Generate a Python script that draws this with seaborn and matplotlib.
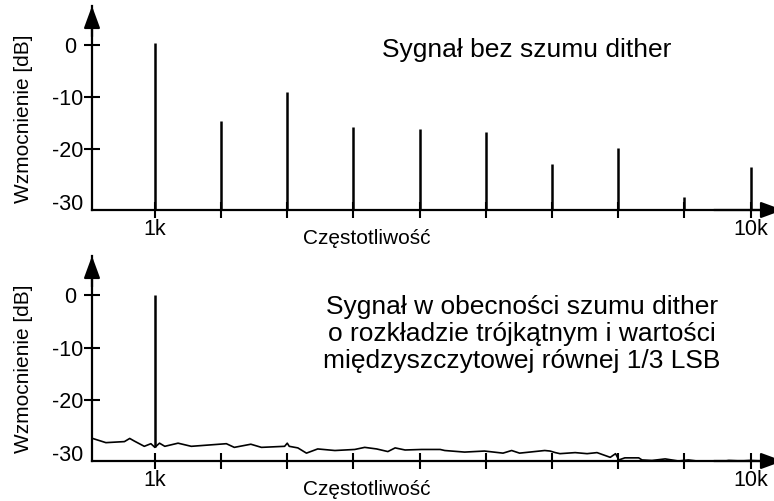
import matplotlib
matplotlib.use("Agg")
import matplotlib.pyplot as plt
import seaborn as sns
import pandas as pd

# ---------------- data ----------------
harm_khz = [1, 2, 3, 4, 5, 6, 7, 8, 9, 10]
harm_db = [0.5, -14.6, -8.9, -15.7, -16.0, -16.7, -22.7, -19.8, -29.1, -23.3]

spike_khz = [1]
spike_db = [0.0]
spike_base_db = [-28.9]

noise_khz = [0.06, 0.11, 0.26, 0.54, 0.62, 0.69, 0.84, 0.94, 1.0, 1.07, 1.15, 1.35,
             1.55, 2.08, 2.20, 2.45, 2.61, 2.96, 3.00, 3.03, 3.16, 3.29, 3.46, 3.72,
             4.02, 4.17, 4.35, 4.52, 4.63, 4.78, 5.03, 5.31, 5.38, 5.68, 5.98, 6.26,
             6.39, 6.51, 6.89, 6.97, 7.05, 7.12, 7.35, 7.53, 7.68, 7.88, 7.96, 8.01,
             8.10, 8.31, 8.36, 8.51, 8.71, 8.91, 9.06, 9.26, 9.46, 9.67, 9.86, 9.99,
             10.17]
noise_db = [-27.3, -27.5, -28.1, -27.9, -27.3, -27.8, -28.8, -28.3, -29.0, -28.2, -28.8, -28.2,
            -28.8, -28.3, -29.0, -28.4, -29.0, -28.8, -28.2, -28.8, -29.1, -30.1, -29.3, -29.6,
            -29.4, -29.0, -29.3, -29.8, -29.1, -29.5, -29.4, -29.4, -29.6, -29.9, -29.7, -30.1,
            -29.6, -30.1, -29.6, -29.7, -30.0, -30.2, -30.0, -30.2, -30.0, -30.9, -30.2, -31.4,
            -31.0, -31.0, -31.4, -31.5, -31.2, -31.6, -31.4, -31.7, -31.9, -31.5, -31.6, -31.5,
            -31.6]

y_ticks = [0, -10, -20, -30]
y_tick_labels = ["0 ", "-10", "-20", "-30"]
x_ticks = [1, 2, 3, 4, 5, 6, 7, 8, 9, 10]
x_tick_labels = ["1k", "", "", "", "", "", "", "", "", "10k"]

title_top = "Sygnał bez szumu dither"
title_bottom = ("Sygnał w obecności szumu dither\n"
                "o rozkładzie trójkątnym i wartości\n"
                "międzyszczytowej równej 1/3 LSB")
x_label = "Częstotliwość"
y_label = "Wzmocnienie [dB]"

XLIM = (0.05, 10.49)
YLIM = (-31.6, 7.5)

sns.set_style("white")
plt.rcParams["font.family"] = ["Liberation Sans", "DejaVu Sans"]
plt.rcParams["text.color"] = "black"
plt.rcParams["axes.labelcolor"] = "black"

W, H = 774, 501
fig = plt.figure(figsize=(W / 100, H / 100), dpi=100)


def px_axes(left, top, right, bottom):
    return fig.add_axes([left / W, 1 - bottom / H, (right - left) / W, (bottom - top) / H])


def style_axes(ax, top, bottom):
    h = bottom - top
    ax.set_xlim(*XLIM)
    ax.set_ylim(*YLIM)
    for side in ["top", "right"]:
        ax.spines[side].set_visible(False)
    for side in ["left", "bottom"]:
        ax.spines[side].set_linewidth(1.6)
        ax.spines[side].set_color("black")
    ax.set_xticks(x_ticks)
    ax.set_xticklabels(x_tick_labels)
    ax.set_yticks(y_ticks)
    ax.set_yticklabels(y_tick_labels)
    ax.tick_params(axis="both", direction="inout", length=11, width=1.5,
                   colors="black", labelsize=15.5, pad=1, bottom=True, left=True)
    ax.yaxis.get_major_ticks()[-1].tick1line.set_visible(False)
    ax.set_xlabel(x_label, fontsize=15, color="black")
    ax.set_ylabel(y_label, fontsize=15, color="black")
    ax.xaxis.set_label_coords((367 - 92) / 691, -19 / h)
    ax.yaxis.set_label_coords(-(92 - 33) / 691, (bottom - (top + 113)) / h)
    ax.patch.set_alpha(0)
    # arrow heads on both axes
    arrow = dict(arrowstyle="-|>,head_length=0.9,head_width=0.33", color="black",
                 lw=1.6, mutation_scale=15, shrinkA=0, shrinkB=0)
    ax.annotate("", xy=(0, 1), xytext=(0, 0.85), xycoords="axes fraction",
                arrowprops=arrow, annotation_clip=False)
    ax.annotate("", xy=(1, 0), xytext=(0.9, 0), xycoords="axes fraction",
                arrowprops=arrow, annotation_clip=False)


# ---------------- top panel: no dither ----------------
ax1 = px_axes(92, 6, 783, 210)
ax1.vlines(harm_khz, YLIM[0], harm_db, color="black", lw=1.8)
style_axes(ax1, 6, 210)
ax1.text((527 - 92) / 691, (210 - 50) / 204, title_top, transform=ax1.transAxes,
         fontsize=19, ha="center", va="center", color="black")

# ---------------- bottom panel: with dither ----------------
ax2 = px_axes(92, 256, 783, 461)
noise = pd.DataFrame({"f": noise_khz, "db": noise_db})
sns.lineplot(data=noise, x="f", y="db", ax=ax2, color="black", lw=1.2, sort=False)
ax2.vlines(spike_khz, spike_base_db, spike_db, color="black", lw=1.8)
style_axes(ax2, 256, 461)
ax2.text((522 - 92) / 691, (461 - 334) / 205, title_bottom, transform=ax2.transAxes,
         fontsize=19, ha="center", va="center", linespacing=1.15, color="black")

fig.savefig("out.png", dpi=100)
